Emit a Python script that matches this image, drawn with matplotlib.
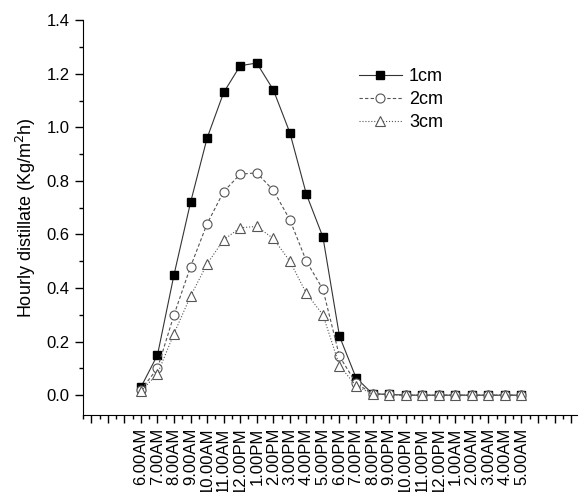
import numpy as np
import matplotlib
matplotlib.use('Agg')
import matplotlib.pyplot as plt
from matplotlib.ticker import MultipleLocator, FixedLocator

plt.rcParams['font.family'] = ['Liberation Sans', 'DejaVu Sans']

# hours from 6 AM to 5 AM next day
hours = ['6.00AM', '7.00AM', '8.00AM', '9.00AM', '10.00AM', '11.00AM', '12.00PM',
         '1.00PM', '2.00PM', '3.00PM', '4.00PM', '5.00PM', '6.00PM', '7.00PM',
         '8.00PM', '9.00PM', '10.00PM', '11.00PM', '12.00PM', '1.00AM', '2.00AM',
         '3.00AM', '4.00AM', '5.00AM']
d1 = [0.03, 0.15, 0.45, 0.72, 0.96, 1.13, 1.23, 1.24, 1.14, 0.98, 0.75, 0.59,
      0.22, 0.065, 0.005, 0.003, 0, 0, 0, 0, 0, 0, 0, 0]
d2 = [0.02, 0.10, 0.30, 0.48, 0.64, 0.76, 0.825, 0.83, 0.765, 0.655, 0.50, 0.395,
      0.145, 0.045, 0.005, 0.003, 0, 0, 0, 0, 0, 0, 0, 0]
d3 = [0.015, 0.08, 0.23, 0.37, 0.49, 0.58, 0.625, 0.63, 0.585, 0.50, 0.38, 0.30,
      0.11, 0.035, 0.004, 0.002, 0, 0, 0, 0, 0, 0, 0, 0]

x = np.arange(len(hours))

fig = plt.figure(figsize=(5.79, 4.92), dpi=100)
ax = fig.add_axes([0.1434, 0.1565, 0.853, 0.8025])

ax.plot(x, d1, '-', color='#333333', lw=0.8, marker='s', ms=5.5,
        mfc='black', mec='black', label='1cm')
ax.plot(x, d2, '--', color='#555555', lw=0.8, marker='o', ms=6.5,
        mfc='white', mec='#555555', mew=0.8, dashes=(3, 2), label='2cm')
ax.plot(x, d3, ':', color='#555555', lw=0.8, marker='^', ms=7,
        mfc='white', mec='#555555', mew=0.8, label='3cm')

ax.set_xlim(-3.5, 26.35)
ax.set_ylim(-0.074, 1.4)

ax.spines['top'].set_visible(False)
ax.spines['right'].set_visible(False)

major = np.arange(-3, 27)
ax.xaxis.set_major_locator(FixedLocator(major))
ax.set_xticklabels([hours[int(m)] if 0 <= m < len(hours) else '' for m in major],
                   rotation=90, fontsize=12)
ax.xaxis.set_minor_locator(MultipleLocator(0.5))
ax.set_yticks(np.arange(0, 1.41, 0.2))
ax.set_yticklabels(['%.1f' % v for v in np.arange(0, 1.41, 0.2)], fontsize=12)
ax.yaxis.set_minor_locator(MultipleLocator(0.1))

ax.tick_params(which='major', direction='out', length=6, width=1)
ax.tick_params(which='minor', direction='out', length=3, width=1)
ax.tick_params(axis='x', pad=3)

ax.set_ylabel('Hourly distillate (Kg/m$^2$h)', fontsize=13, labelpad=6)

ax.legend(loc='upper left', bbox_to_anchor=(0.525, 0.92), frameon=False,
          fontsize=13, handlelength=2.4, labelspacing=0.33, handletextpad=0.4)

fig.savefig('out.png', dpi=100)
